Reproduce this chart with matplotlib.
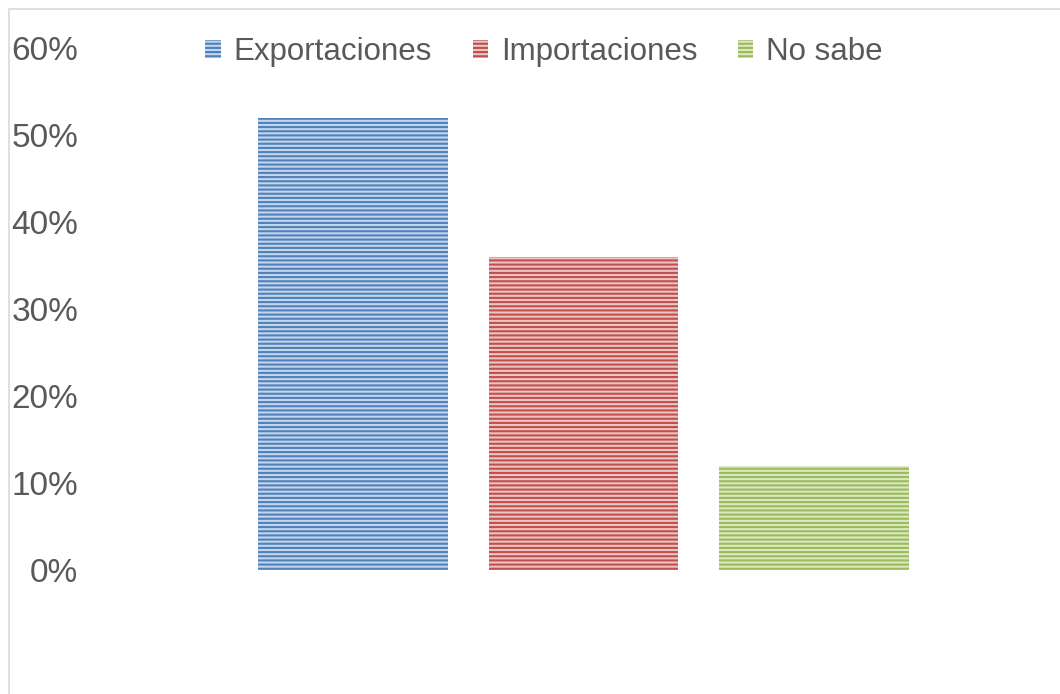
import matplotlib.pyplot as plt
from matplotlib.patches import Rectangle

# data
series = ["Exportaciones", "Importaciones", "No sabe"]
values = [0.52, 0.36, 0.12]
yticks = [0, 0.1, 0.2, 0.3, 0.4, 0.5, 0.6]
ytick_labels = ["0%", "10%", "20%", "30%", "40%", "50%", "60%"]

dark = ["#4F81BD", "#C0504D", "#9BBB59"]
light = ["#C5D5EA", "#ECC4C3", "#DCE8C5"]

plt.rcParams["font.family"] = ["Liberation Sans", "DejaVu Sans"]
plt.rcParams["hatch.linewidth"] = 1.5

fig = plt.figure(figsize=(10.6, 6.94), dpi=100)
W, H = 1060, 694
ax = fig.add_axes([95 / W, 1 - 570 / H, (1039 - 95) / W, (570 - 48) / H])

# one category, three series side by side
xs = [0, 1, 2]
for x, v, name, c, lc in zip(xs, values, series, dark, light):
    ax.bar(x, v, width=0.823, color=lc, edgecolor=c, linewidth=0,
           hatch="----", label=name)

ax.set_ylim(0, 0.6)
ax.set_xlim((95 - 353) / 230.5, (1039 - 353) / 230.5)
ax.set_yticks(yticks)
ax.set_yticklabels(ytick_labels)
ax.set_xticks([])
ax.tick_params(axis="y", length=0, pad=12, labelsize=24, labelcolor="#595959")
for s in ax.spines.values():
    s.set_visible(False)

leg = fig.legend(loc="center", bbox_to_anchor=(544 / W, 1 - 52 / H), ncol=3,
                 frameon=False, fontsize=22.5, handlelength=0.5,
                 handleheight=0.5, handletextpad=0.4, columnspacing=1.3)
for t in leg.get_texts():
    t.set_color("#595959")

# outer chart border
fig.patches.append(Rectangle((9 / W, -0.1), 1.2, 1 - 9 / H + 0.1,
                             transform=fig.transFigure, fill=False,
                             edgecolor="#D9D9D9", linewidth=1.2))

fig.savefig("out.png", dpi=100)
